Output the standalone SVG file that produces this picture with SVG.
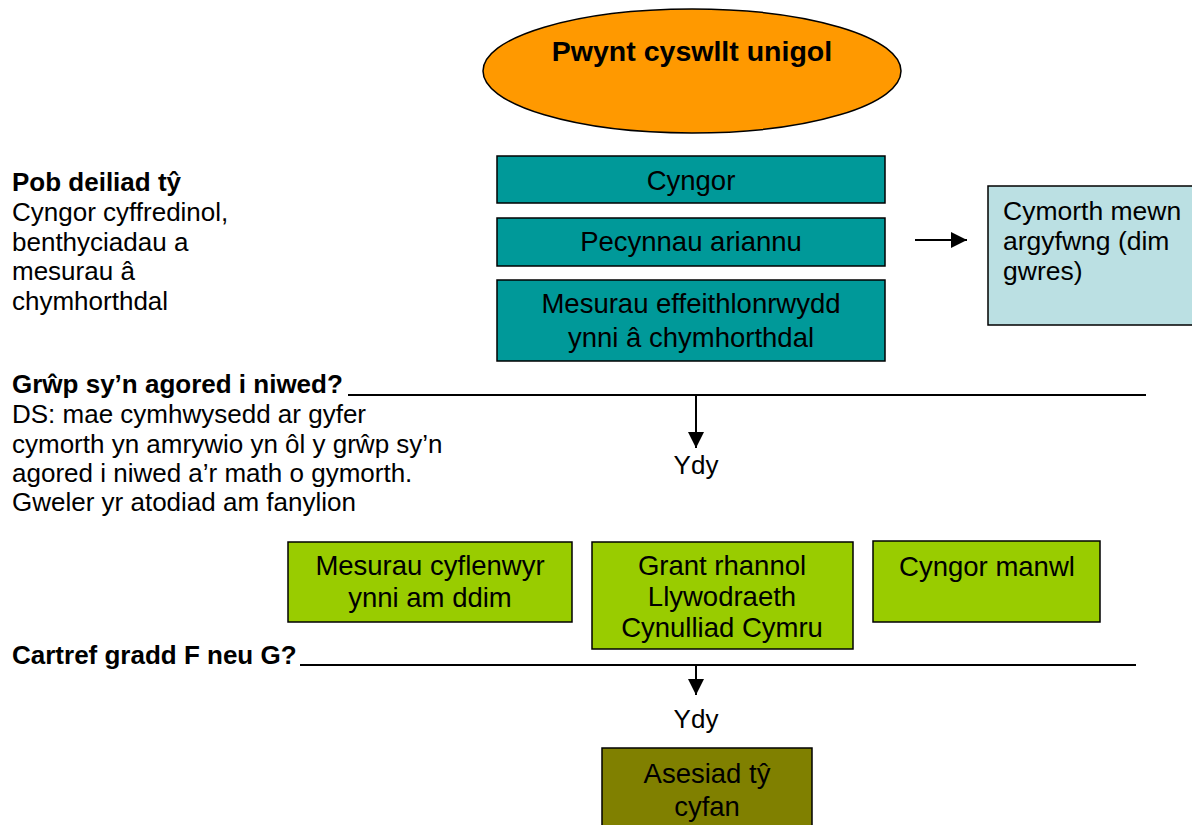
<svg xmlns="http://www.w3.org/2000/svg" width="1192" height="825" viewBox="0 0 1192 825">
<defs>
<style>
text{font-family:"Liberation Sans",Arial,sans-serif;font-size:26px;fill:#000}
.b{font-weight:bold}
.c{text-anchor:middle}
.t{font-size:27.5px}
.h{font-size:28.5px}
.m{font-size:26.5px}
.bx{stroke:#000;stroke-width:1.5}
.teal{fill:#009999}
.green{fill:#99CC00}
.blue{fill:#BBE0E3}
.olive{fill:#808000}
.ln{stroke:#000;stroke-width:2;fill:none}
</style>
<marker id="ah" viewBox="0 0 16 16" refX="16" refY="8" markerWidth="16" markerHeight="16" markerUnits="userSpaceOnUse" orient="auto">
<path d="M0,0 L16,8 L0,16 z" fill="#000"/>
</marker>
</defs>
<rect width="1192" height="825" fill="#fff"/>

<g id="start">
<ellipse cx="692" cy="71" rx="209" ry="62" fill="#FF9900" stroke="#000" stroke-width="1.5"/>
<text x="692" y="61" class="b c h">Pwynt cyswllt unigol</text>
</g>

<g id="label-all">
<text x="12" y="191" class="b">Pob deiliad tŷ</text>
<text x="12" y="221">Cyngor cyffredinol,</text>
<text x="12" y="251">benthyciadau a</text>
<text x="12" y="280">mesurau â</text>
<text x="12" y="310">chymhorthdal</text>
</g>

<g id="cyngor">
<rect x="497" y="156" width="388" height="47" class="bx teal"/>
<text x="691" y="190" class="c t">Cyngor</text>
</g>
<g id="pecynnau">
<rect x="497" y="218" width="388" height="48" class="bx teal"/>
<text x="691" y="251" class="c t">Pecynnau ariannu</text>
</g>
<g id="mesurau-effeithlonrwydd">
<rect x="497" y="280" width="388" height="81" class="bx teal"/>
<text x="691" y="313" class="c t">Mesurau effeithlonrwydd</text>
<text x="691" y="347" class="c t">ynni â chymhorthdal</text>
</g>

<g id="cymorth-argyfwng">
<rect x="988" y="186" width="210" height="139" class="bx blue"/>
<text x="1003" y="220" class="m">Cymorth mewn</text>
<text x="1003" y="250" class="m">argyfwng (dim</text>
<text x="1003" y="280" class="m">gwres)</text>
</g>

<g id="label-vulnerable">
<text x="12" y="393" class="b">Grŵp sy’n agored i niwed?</text>
<text x="12" y="423">DS: mae cymhwysedd ar gyfer</text>
<text x="12" y="453">cymorth yn amrywio yn ôl y grŵp sy’n</text>
<text x="12" y="482">agored i niwed a’r math o gymorth.</text>
<text x="12" y="511">Gweler yr atodiad am fanylion</text>
</g>

<g id="ydy1">
<text x="696" y="474" class="c">Ydy</text>
</g>

<g id="mesurau-cyflenwyr">
<rect x="288" y="542" width="284" height="80" class="bx green"/>
<text x="430" y="575" class="c t">Mesurau cyflenwyr</text>
<text x="430" y="607" class="c t">ynni am ddim</text>
</g>
<g id="grant">
<rect x="592" y="542" width="261" height="107" class="bx green"/>
<text x="722" y="575" class="c t">Grant rhannol</text>
<text x="722" y="606" class="c t">Llywodraeth</text>
<text x="722" y="637" class="c t">Cynulliad Cymru</text>
</g>
<g id="cyngor-manwl">
<rect x="873" y="541" width="227" height="81" class="bx green"/>
<text x="987" y="576" class="c t">Cyngor manwl</text>
</g>

<g id="label-grade">
<text x="12" y="664" class="b">Cartref gradd F neu G?</text>
</g>

<g id="ydy2">
<text x="696" y="728" class="c">Ydy</text>
</g>

<g id="asesiad">
<rect x="602" y="748" width="210" height="90" class="bx olive"/>
<text x="707" y="783" class="c t">Asesiad tŷ</text>
<text x="707" y="816" class="c t">cyfan</text>
</g>

<g id="connectors">
<line x1="348" y1="395" x2="1146" y2="395" class="ln"/>
<line x1="300" y1="665" x2="1136" y2="665" class="ln"/>
<line x1="915" y1="240" x2="967" y2="240" class="ln" marker-end="url(#ah)"/>
<line x1="696" y1="395" x2="696" y2="448" class="ln" marker-end="url(#ah)"/>
<line x1="696" y1="665" x2="696" y2="695" class="ln" marker-end="url(#ah)"/>
</g>
</svg>
